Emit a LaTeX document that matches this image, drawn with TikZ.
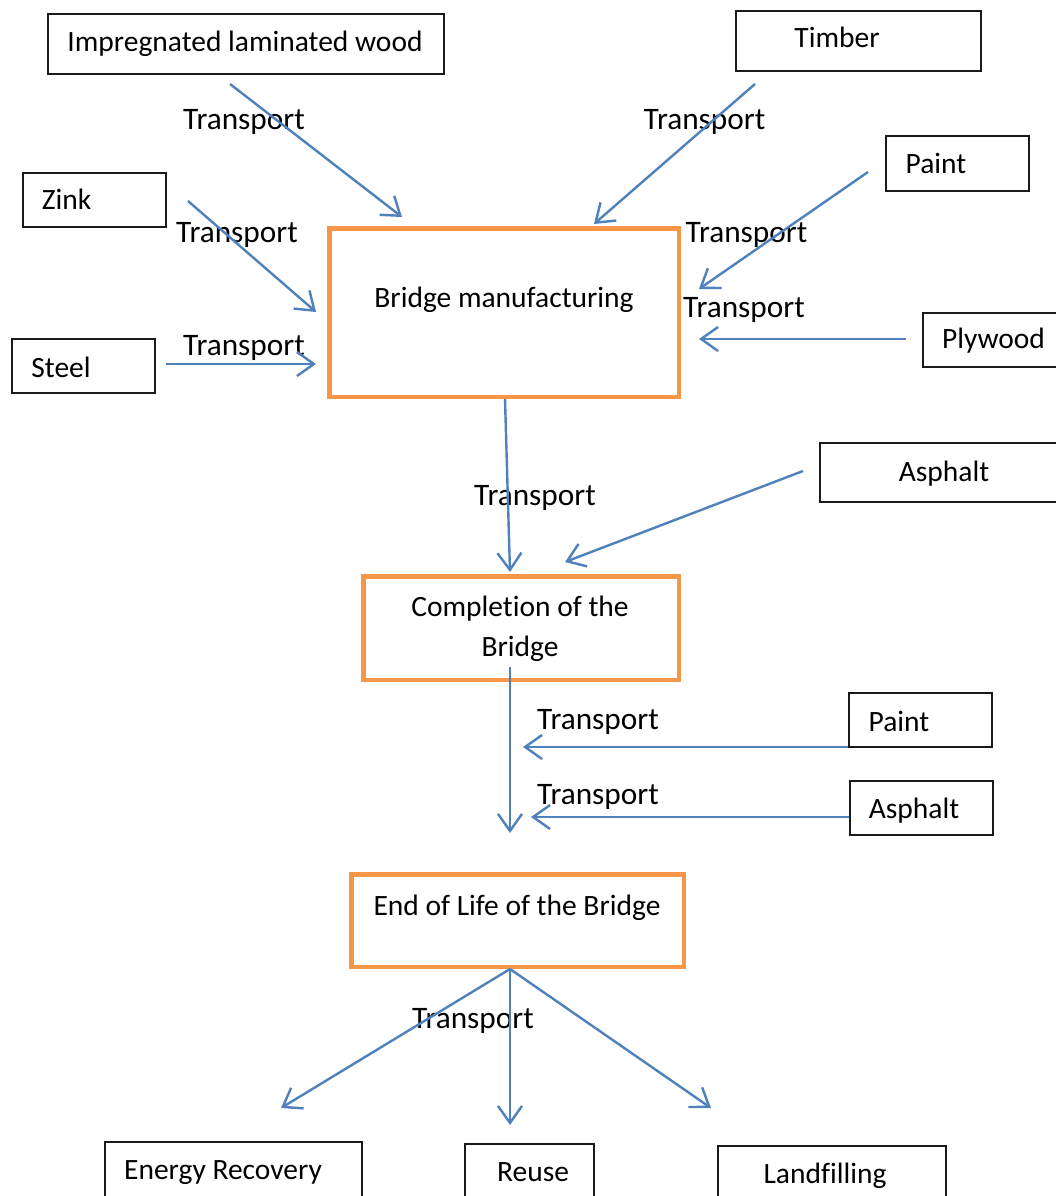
\documentclass[tikz,border=0pt]{standalone}
\usepackage{fontspec}
\setmainfont{Carlito}[Ligatures=NoCommon]
\usetikzlibrary{arrows.meta}
\definecolor{arrblue}{HTML}{4F81BD}
\definecolor{boxorange}{HTML}{F79646}
\definecolor{boxblack}{HTML}{1A1A1A}
\begin{document}
\begin{tikzpicture}[x=1pt,y=-1pt,
  box/.style={draw=boxblack,line width=1.8pt,inner sep=0pt,outer sep=0pt,anchor=north west,fill=white},
  mainbox/.style={draw=boxorange,line width=4.5pt,inner sep=0pt,outer sep=0pt,anchor=north west,fill=white},
  txt/.style={anchor=base,inner sep=0pt,font=\fontsize{29.5}{35}\selectfont},
  lbl/.style={anchor=base,inner sep=0pt,font=\fontsize{31.3}{37}\selectfont},
  arr/.style={draw=arrblue,line width=2.4pt,-{Straight Barb[length=17pt,width=24pt]}}]
\useasboundingbox (0,0) rectangle (1056,1196);
\clip (0,0) rectangle (1056,1196);
\fill[white] (0,0) rectangle (1056,1196);
% boxes
\node[box,minimum width=396pt,minimum height=60pt] (imp) at (48,14) {};
\node[box,minimum width=245pt,minimum height=60pt] (timber) at (736,11) {};
\node[box,minimum width=143pt,minimum height=55pt] (painta) at (886,136) {};
\node[box,minimum width=143pt,minimum height=54pt] (zink) at (23,173) {};
\node[mainbox,minimum width=349.5pt,minimum height=168.5pt] (bm) at (329.25,228.25) {};
\node[box,minimum width=143pt,minimum height=54pt] (steel) at (12,339) {};
\node[box,minimum width=160pt,minimum height=54pt] (ply) at (923,313) {};
\node[box,minimum width=260pt,minimum height=59pt] (aspha) at (820,443) {};
\node[mainbox,minimum width=315.5pt,minimum height=103.5pt] (comp) at (363.25,576.25) {};
\node[box,minimum width=143pt,minimum height=54pt] (paintb) at (849,693) {};
\node[box,minimum width=143pt,minimum height=54pt] (asphb) at (850,781) {};
\node[mainbox,minimum width=332.5pt,minimum height=92.5pt] (eol) at (351.25,874.25) {};
\node[box,minimum width=257pt,minimum height=70pt] (er) at (105,1142) {};
\node[box,minimum width=129pt,minimum height=70pt] (reuse) at (465,1144) {};
\node[box,minimum width=228pt,minimum height=70pt] (land) at (718,1146) {};
% box texts
\node[txt] (timp) at (245,52) {Impregnated laminated wood};
\node[txt] (ttimber) at (837,48) {Timber};
\node[txt] (tpainta) at (936,173) {Paint};
\node[txt] (tzink) at (66.5,209) {Zink};
\node[txt] (tbm) at (504,307) {Bridge manufacturing};
\node[txt] (tsteel) at (61,377) {Steel};
\node[txt] (tply) at (993.5,348) {Plywood};
\node[txt] (taspha) at (944,481) {Asphalt};
\node[txt] (tcomp1) at (520,616) {Completion of the};
\node[txt] (tcomp2) at (520,656) {Bridge};
\node[txt] (tpaintb) at (899,731) {Paint};
\node[txt] (tasphb) at (914,818) {Asphalt};
\node[txt] (teol) at (517,915) {End of Life of the Bridge};
\node[txt] (ter) at (223,1179) {Energy Recovery};
\node[txt] (treuse) at (533,1181) {Reuse};
\node[txt] (tland) at (825,1183) {Landfilling};
% transport labels
\node[lbl] (l1) at (244,130) {Transport};
\node[lbl] (l2) at (704.5,130) {Transport};
\node[lbl] (l3) at (237,242) {Transport};
\node[lbl] (l4) at (746.5,242) {Transport};
\node[lbl] (l5) at (744,317) {Transport};
\node[lbl] (l6) at (244,355) {Transport};
\node[lbl] (l7) at (535,505) {Transport};
\node[lbl] (l8) at (598,729) {Transport};
\node[lbl] (l9) at (598,804) {Transport};
\node[lbl] (l10) at (473,1028) {Transport};
% connector end points
\coordinate (s1) at (230,84);   \coordinate (e1) at (402,217);
\coordinate (s2) at (755,84);   \coordinate (e2) at (594,224);
\coordinate (s3) at (868,172);  \coordinate (e3) at (699,289);
\coordinate (s4) at (188,201);  \coordinate (e4) at (316,312);
\coordinate (s5) at (166,364);  \coordinate (e5) at (316,364);
\coordinate (s6) at (906,339);  \coordinate (e6) at (699,339);
\coordinate (s7) at (505,399);  \coordinate (e7) at (510,572);
\coordinate (s8) at (803,471);  \coordinate (e8) at (565,562);
\coordinate (s9) at (510,667);  \coordinate (e9) at (510,833);
\coordinate (s10) at (848,747); \coordinate (e10) at (523,747);
\coordinate (s11) at (849,817); \coordinate (e11) at (531,817);
\coordinate (s12) at (510,969);
\coordinate (e12) at (281,1108);
\coordinate (e13) at (510,1125);
\coordinate (e14) at (711,1108);
% connectors
\draw[arr] (s1) -- (e1);
\draw[arr] (s2) -- (e2);
\draw[arr] (s3) -- (e3);
\draw[arr] (s4) -- (e4);
\draw[arr] (s5) -- (e5);
\draw[arr] (s6) -- (e6);
\draw[arr] (s7) -- (e7);
\draw[arr] (s8) -- (e8);
\draw[arr] (s9) -- (e9);
\draw[arr] (s10) -- (e10);
\draw[arr] (s11) -- (e11);
\draw[arr] (s12) -- (e12);
\draw[arr] (s12) -- (e13);
\draw[arr] (s12) -- (e14);
\end{tikzpicture}
\end{document}
